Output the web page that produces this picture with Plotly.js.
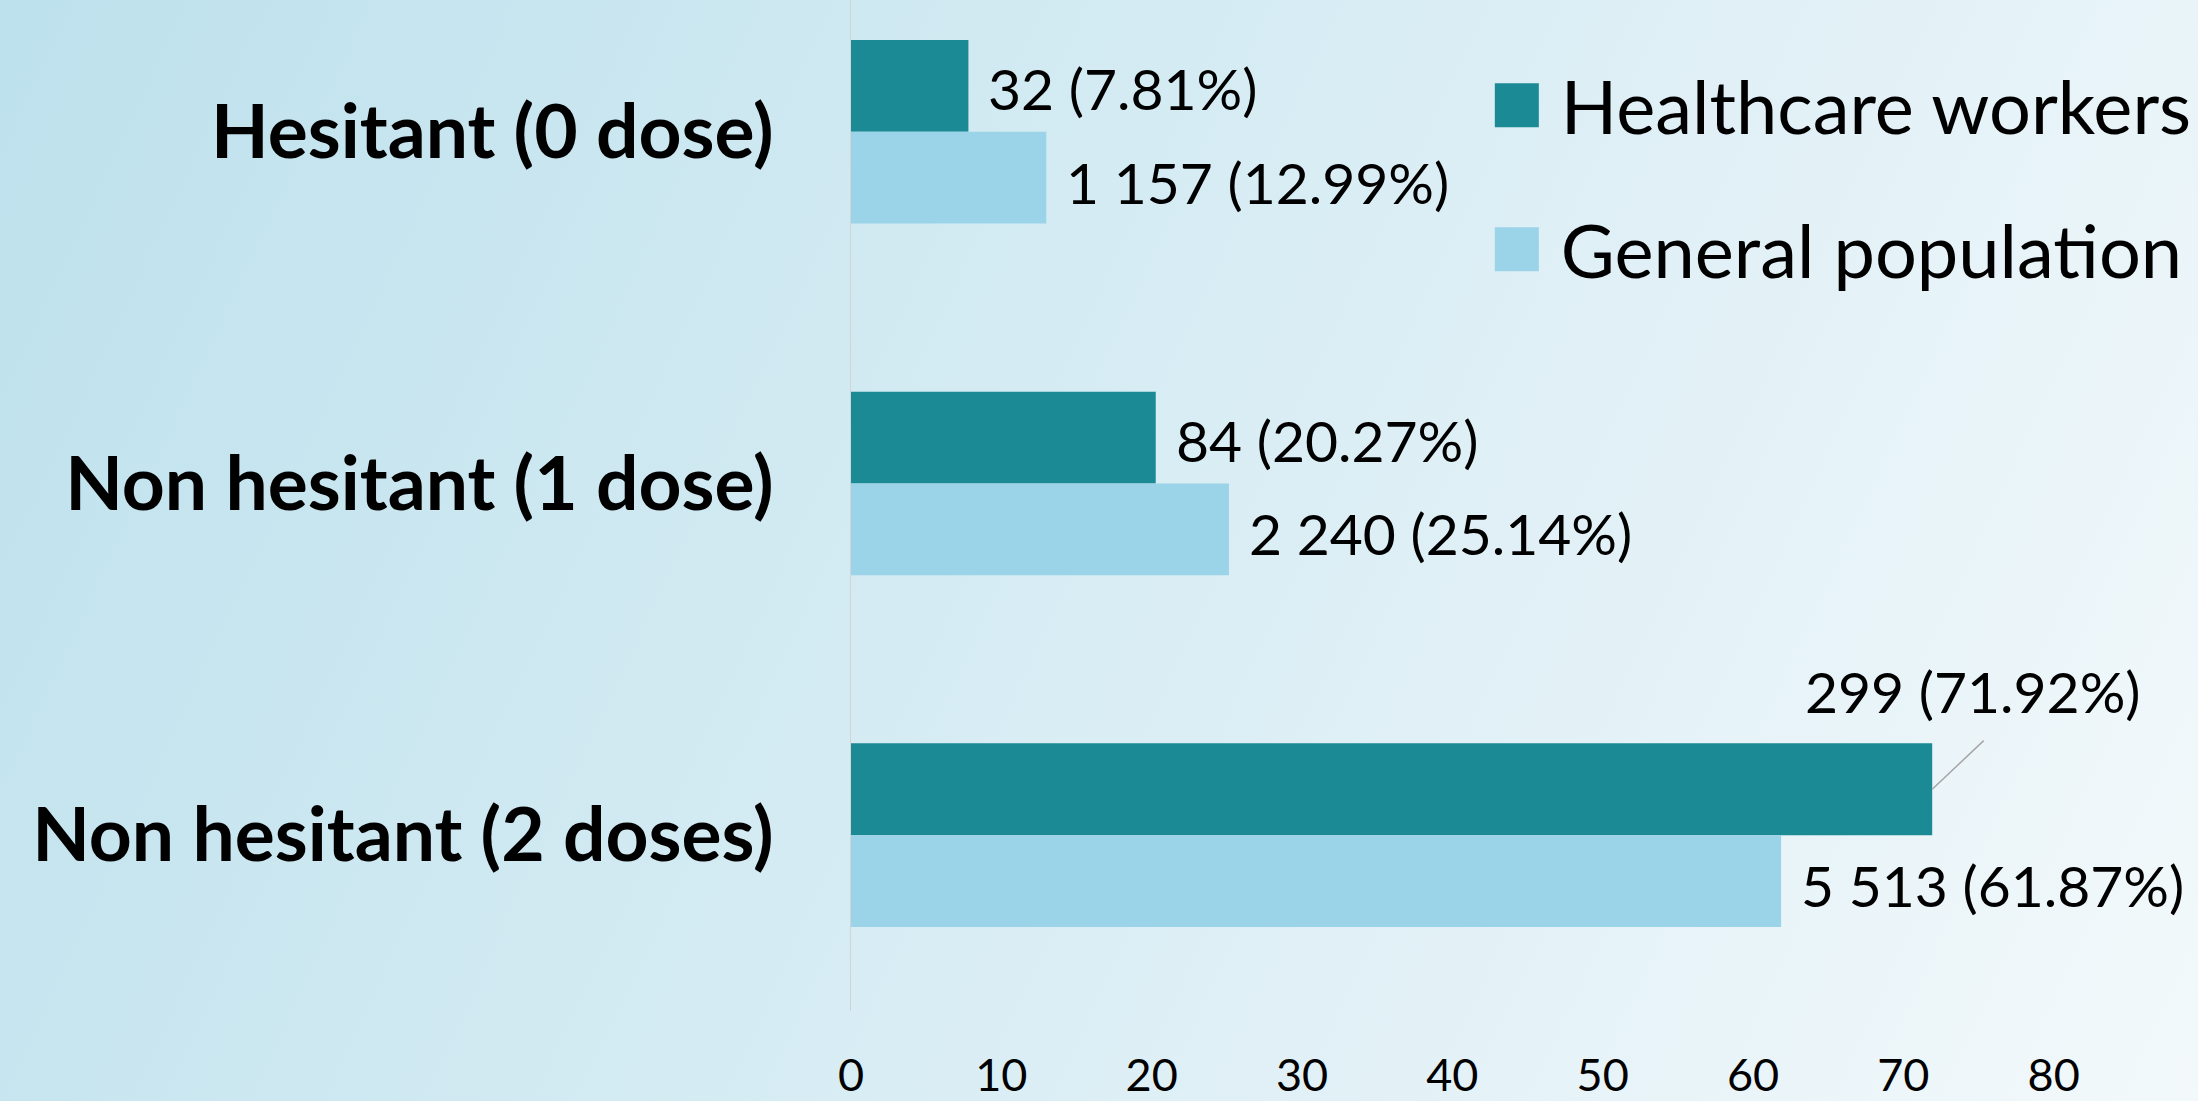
<!DOCTYPE html>
<html>
<head>
<meta charset="utf-8">
<script src="https://cdn.plot.ly/plotly-3.0.1.min.js"></script>
<style>
  html, body { margin: 0; padding: 0; }
  #chart {
    width: 2198px; height: 1101px;
    background: linear-gradient(115deg, #bde1ed 0%, #cde8f1 30%, #e0f0f6 65%, #f3f9fb 100%);
  }
</style>
</head>
<body>
<div id="chart"></div>
<script>
// ---- data ----
const categories = ["Hesitant (0 dose)", "Non hesitant (1 dose)", "Non hesitant (2 doses)"];
const seriesNames = ["Healthcare workers", "General population"];
const hcwCounts = [32, 84, 299];
const hcwPct = [7.81, 20.27, 71.92];
const gpCounts = [1157, 2240, 5513];
const gpPct = [12.99, 25.14, 61.87];
const xTicks = [0, 10, 20, 30, 40, 50, 60, 70, 80];

// ---- styling ----
const FONT = "Lato, Carlito, Calibri, sans-serif";
const HCW_COLOR = "#1b8a94";
const GP_COLOR = "#9bd3e8";
const BAR_HALF_PX = 45.9;

function fmtCount(n) {
  return String(n).replace(/\B(?=(\d{3})+(?!\d))/g, " ");
}
function label(c, p) { return fmtCount(c) + " (" + p.toFixed(2) + "%)"; }

const traces = [
  {
    type: "bar", orientation: "h", name: seriesNames[0],
    y: categories, x: hcwPct, marker: { color: HCW_COLOR },
    legendgroup: "a", hoverinfo: "skip"
  },
  {
    type: "bar", orientation: "h", name: seriesNames[1],
    y: categories, x: gpPct, marker: { color: GP_COLOR },
    legendgroup: "b", hoverinfo: "skip"
  }
];

const annotations = [];
const LABEL_FONT = { family: FONT, size: 57, color: "#000000" };
categories.forEach((cat, i) => {
  // Healthcare workers labels (upper bar of each group)
  if (i === 2) {
    // leader line from the bar end
    annotations.push({
      x: hcwPct[i], y: cat, xref: "x", yref: "y",
      yshift: BAR_HALF_PX, text: "",
      showarrow: true, arrowhead: 0, arrowwidth: 1.5, arrowcolor: "#a6a6a6",
      ax: 53, ay: -50, standoff: 0
    });
    // label placed above-right of the bar
    annotations.push({
      x: hcwPct[i], y: cat, xref: "x", yref: "y",
      yshift: BAR_HALF_PX + 98, xshift: 41,
      xanchor: "center", yanchor: "middle",
      text: label(hcwCounts[i], hcwPct[i]),
      showarrow: false, font: LABEL_FONT
    });
  } else {
    annotations.push({
      x: hcwPct[i], y: cat, xref: "x", yref: "y",
      yshift: BAR_HALF_PX - 2, xshift: 18,
      xanchor: "left", yanchor: "middle",
      text: label(hcwCounts[i], hcwPct[i]),
      showarrow: false, font: LABEL_FONT
    });
  }
  // General population labels (lower bar)
  annotations.push({
    x: gpPct[i], y: cat, xref: "x", yref: "y",
    yshift: -BAR_HALF_PX - 4, xshift: 18,
    xanchor: "left", yanchor: "middle",
    text: label(gpCounts[i], gpPct[i]),
    showarrow: false, font: LABEL_FONT
  });
});

const layout = {
  width: 2198, height: 1101,
  paper_bgcolor: "rgba(0,0,0,0)", plot_bgcolor: "rgba(0,0,0,0)",
  margin: { l: 851, r: 0, t: 0, b: 90, pad: 0 },
  barmode: "group", bargap: 0.478, bargroupgap: 0,
  font: { family: FONT, color: "#000000" },
  xaxis: {
    range: [0, 89.6], tickmode: "array", tickvals: xTicks,
    ticktext: xTicks.map(String),
    showgrid: false, zeroline: false, showline: false, ticks: "",
    tickfont: { family: FONT, size: 45, color: "#000000" },
    ticklabelstandoff: 34, automargin: false, fixedrange: true
  },
  yaxis: {
    type: "category", range: [2.5, -0.3745],
    showgrid: false, zeroline: false, showline: true,
    linecolor: "#d3d3d3", linewidth: 1.5, ticks: "",
    tickfont: { family: FONT, size: 75, color: "#000000", weight: "bold" },
    ticklabelstandoff: 61, automargin: false, fixedrange: true
  },
  showlegend: true,
  legend: {
    x: 0.475, y: 0.95, xanchor: "left", yanchor: "top",
    xref: "paper", yref: "paper",
    bgcolor: "rgba(0,0,0,0)", borderwidth: 0,
    font: { family: FONT, size: 74, color: "#000000" },
    traceorder: "grouped", tracegroupgap: 45,
    itemwidth: 60, itemclick: false, itemdoubleclick: false
  },
  annotations: annotations
};

Plotly.newPlot("chart", traces, layout, { displayModeBar: false, staticPlot: true }).then(gd => {
  // enlarge the legend colour squares to match the reference
  gd.querySelectorAll(".legend .traces .legendpoints path").forEach(p => {
    p.setAttribute("d", "M22,22H-22V-22H22Z");
    p.setAttribute("transform", "translate(26,0)");
  });
});
</script>
</body>
</html>
